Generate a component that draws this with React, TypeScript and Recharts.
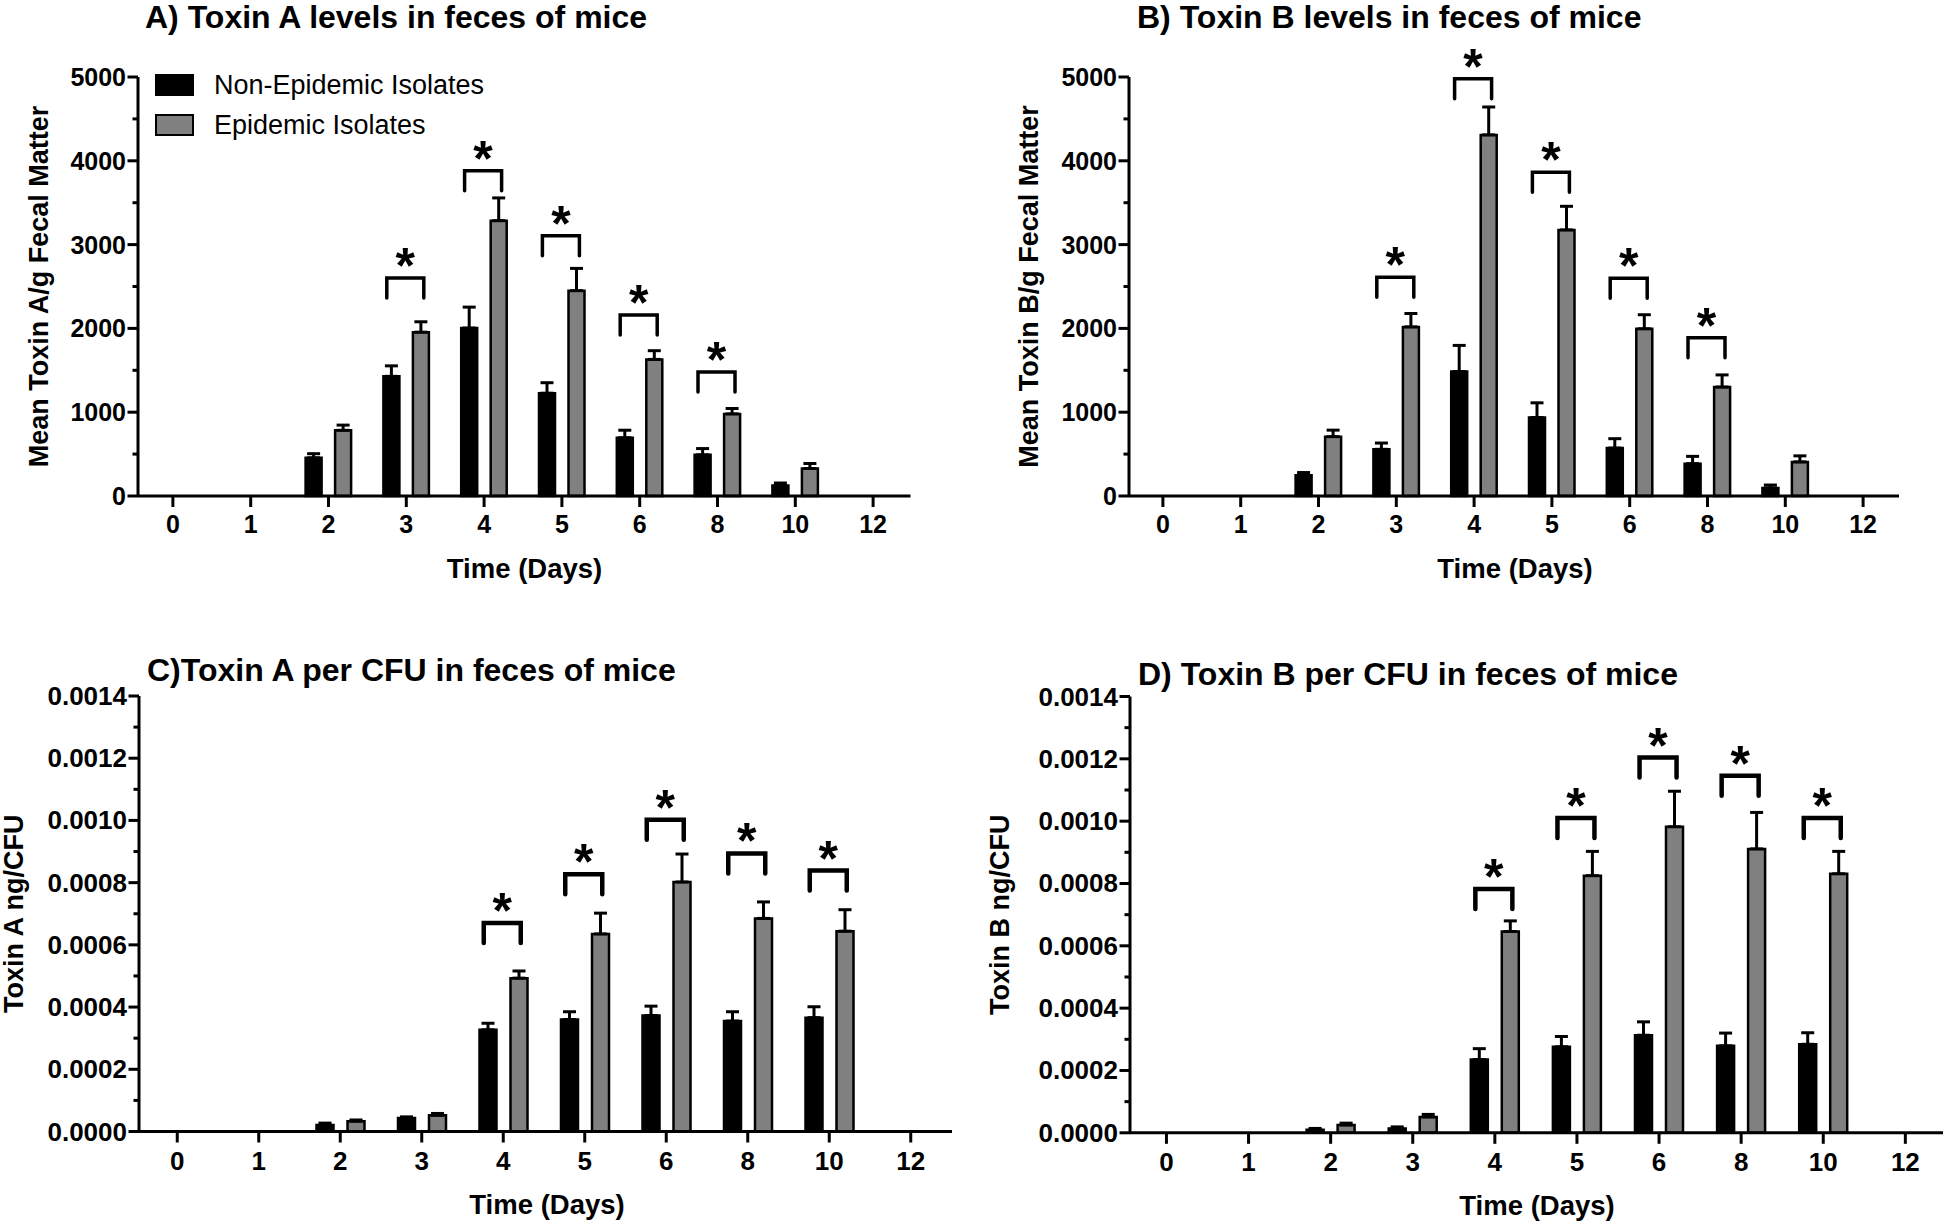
import React from 'react';
import { ComposedChart, Bar, Line, XAxis, YAxis, ErrorBar, Legend } from 'recharts';

const FONT = '"Liberation Sans", Arial, Helvetica, sans-serif';

const days = ['0', '1', '2', '3', '4', '5', '6', '8', '10', '12'];
const seriesNames = ['Non-Epidemic Isolates', 'Epidemic Isolates'];
const seriesColors = ['#000000', '#808080'];

// A) toxin A per g fecal matter
const toxinANon = [0, 0, 455, 1428, 2004, 1227, 695, 491, 125, 0];
const toxinANonErr = [null, null, 50, 125, 250, 125, 90, 75, 30, null];
const toxinAEpi = [0, 0, 784, 1955, 3285, 2450, 1630, 980, 328, 0];
const toxinAEpiErr = [null, null, 62, 124, 272, 266, 104, 64, 60, null];
const toxinASig = [null, null, null, 2600, 3880, 3105, 2160, 1480, null, null];

// B) toxin B per g fecal matter
const toxinBNon = [0, 0, 248, 557, 1485, 937, 572, 386, 96, 0];
const toxinBNonErr = [null, null, 32, 75, 312, 175, 112, 87, 35, null];
const toxinBEpi = [0, 0, 708, 2018, 4309, 3175, 1995, 1300, 407, 0];
const toxinBEpiErr = [null, null, 78, 160, 333, 282, 168, 145, 72, null];
const toxinBSig = [null, null, null, 2610, 4978, 3863, 2598, 1888, null, null];

// C) toxin A ng per CFU
const cfuANon = [0, 0, 0.000021, 0.000043, 0.000327, 0.00036, 0.000373, 0.000355, 0.000366, 0];
const cfuANonErr = [null, null, 0.000006, 0.000004, 0.000021, 0.000025, 0.00003, 0.00003, 0.000035, null];
const cfuAEpi = [0, 0, 0.000033, 0.000052, 0.000493, 0.000635, 0.000802, 0.000685, 0.000644, 0];
const cfuAEpiErr = [null, null, 0.000004, 0.000006, 0.000023, 0.000067, 0.00009, 0.000053, 0.000069, null];
const cfuASig = [null, null, null, null, 0.00067, 0.000827, 0.001002, 0.000894, 0.000839, null];

// D) toxin B ng per CFU
const cfuBNon = [0, 0, 0.00001, 0.000014, 0.000235, 0.000276, 0.000313, 0.000279, 0.000284, 0];
const cfuBNonErr = [null, null, 0.000004, 0.000005, 0.000035, 0.000033, 0.000043, 0.000041, 0.000037, null];
const cfuBEpi = [0, 0, 0.000025, 0.000051, 0.000646, 0.000825, 0.000982, 0.000911, 0.000831, 0];
const cfuBEpiErr = [null, null, 0.000006, 0.000008, 0.000034, 0.000078, 0.000114, 0.000117, 0.000072, null];
const cfuBSig = [null, null, null, null, 0.000782, 0.00101, 0.001204, 0.001146, 0.00101, null];

const levelTicks = [0, 500, 1000, 1500, 2000, 2500, 3000, 3500, 4000, 4500, 5000];
const cfuTicks = [
  0, 0.0001, 0.0002, 0.0003, 0.0004, 0.0005, 0.0006, 0.0007,
  0.0008, 0.0009, 0.001, 0.0011, 0.0012, 0.0013, 0.0014,
];

const buildRows = (non: any[], nonErr: any[], epi: any[], epiErr: any[], sig: any[]) =>
  days.map((day, i) => ({
    day,
    non: non[i],
    nonErr: nonErr[i] == null ? null : [0, nonErr[i]],
    epi: epi[i],
    epiErr: epiErr[i] == null ? null : [0, epiErr[i]],
    sig: sig[i],
  }));

const YTick = ({ x, y, payload, index, fontSize, decimals }: any) => {
  const major = index % 2 === 0;
  return (
    <g>
      <line x1={x} x2={x - (major ? 10.5 : 5.5)} y1={y} y2={y} stroke="#000" strokeWidth={3} />
      {major && (
        <text x={x - 12} y={y} textAnchor="end" dominantBaseline="central"
          fontFamily={FONT} fontWeight="bold" fontSize={fontSize} fill="#000">
          {Number(payload.value).toFixed(decimals)}
        </text>
      )}
    </g>
  );
};

const XTick = ({ x, y, payload, fontSize, labelDy }: any) => (
  <g>
    <line x1={x} x2={x} y1={y} y2={y + 11} stroke="#000" strokeWidth={3} />
    <text x={x} y={y + labelDy} textAnchor="middle" dominantBaseline="central"
      fontFamily={FONT} fontWeight="bold" fontSize={fontSize} fill="#000">
      {payload.value}
    </text>
  </g>
);

const makeBracket = (sw: number) => (p: any) => {
  const { cx, cy, payload, index } = p;
  if (payload == null || payload.sig == null || cy == null || isNaN(cy)) return <g key={`b${index}`} />;
  const l = cx - 19.5;
  const r = cx + 17.5;
  return (
    <g key={`b${index}`}>
      <path d={`M${l},${cy + 20} V${cy} H${r} V${cy + 20}`} fill="none" stroke="#000"
        strokeWidth={sw} strokeLinecap="round" />
      <text x={(l + r) / 2} y={cy + 5} textAnchor="middle" fontFamily={FONT}
        fontWeight="bold" fontSize={50} fill="#000">*</text>
    </g>
  );
};

const LegendBox = () => (
  <div style={{ fontFamily: FONT, fontSize: 27, color: '#000' }}>
    {seriesNames.map((name, i) => (
      <div key={name} style={{ display: 'flex', alignItems: 'center', height: 40 }}>
        <span style={{ width: 35, height: 18.5, background: seriesColors[i], border: '2.5px solid #000', marginRight: 20 }} />
        <span>{name}</span>
      </div>
    ))}
  </div>
);

const Panel = (props: any) => {
  const {
    left, top, width, height, rows, title, titleLeft, titleTop, yWidth, margin, pad,
    yMax, yTicks, decimals, tickFont, xLabelDy, yLabel, yLabelX, xLabelX, barSize, barGap,
    bracketWidth, legend,
  } = props;
  return (
    <div style={{ position: 'absolute', left, top, width, height }}>
      <div style={{
        position: 'absolute', left: titleLeft, top: titleTop, fontFamily: FONT, fontWeight: 'bold',
        fontSize: 32, lineHeight: '32px', whiteSpace: 'nowrap', color: '#000', zIndex: 2,
      }}>
        {title}
      </div>
      <ComposedChart width={width} height={height} data={rows} margin={margin}
        barSize={barSize} barGap={barGap} style={{ fontFamily: FONT }}>
        <XAxis dataKey="day" type="category" interval={0} height={30} padding={pad}
          axisLine={{ stroke: '#000', strokeWidth: 3 }} tickLine={false} tickSize={0} tickMargin={0}
          tick={<XTick fontSize={tickFont} labelDy={xLabelDy} />}
          label={{
            content: (p: any) => (
              <text x={xLabelX} y={p.viewBox.y + 72.5} textAnchor="middle" dominantBaseline="central"
                fontFamily={FONT} fontWeight="bold" fontSize={27.5} fill="#000">Time (Days)</text>
            ),
          }} />
        <YAxis type="number" domain={[0, yMax]} ticks={yTicks} interval={0} width={yWidth}
          axisLine={{ stroke: '#000', strokeWidth: 3 }} tickLine={false} tickSize={0} tickMargin={0}
          tick={<YTick fontSize={tickFont} decimals={decimals} />}
          label={{
            content: (p: any) => {
              const cy = p.viewBox.y + p.viewBox.height / 2;
              return (
                <text x={yLabelX} y={cy} transform={`rotate(-90 ${yLabelX} ${cy})`} textAnchor="middle"
                  dominantBaseline="central" fontFamily={FONT} fontWeight="bold" fontSize={27} fill="#000">
                  {yLabel}
                </text>
              );
            },
          }} />
        {legend && (
          <Legend content={<LegendBox />} layout="vertical" align="center" verticalAlign="middle"
            wrapperStyle={{ left: 155, top: 65, width: 'auto', height: 'auto' }} />
        )}
        <Bar dataKey="non" name={seriesNames[0]} fill={seriesColors[0]} stroke="#000" strokeWidth={2.5}
          isAnimationActive={false}>
          <ErrorBar dataKey="nonErr" width={6.5} strokeWidth={3} stroke="#000" direction="y" />
        </Bar>
        <Bar dataKey="epi" name={seriesNames[1]} fill={seriesColors[1]} stroke="#000" strokeWidth={2.5}
          isAnimationActive={false}>
          <ErrorBar dataKey="epiErr" width={6.5} strokeWidth={3} stroke="#000" direction="y" />
        </Bar>
        <Line dataKey="sig" stroke="none" dot={makeBracket(bracketWidth)} activeDot={false}
          legendType="none" isAnimationActive={false} />
      </ComposedChart>
    </div>
  );
};

export default function App() {
  return (
    <div style={{ position: 'absolute', left: 0, top: 0, width: 1946, height: 1223, background: '#fff', overflow: 'hidden' }}>
      <Panel left={0} top={0} width={960} height={610}
        rows={buildRows(toxinANon, toxinANonErr, toxinAEpi, toxinAEpiErr, toxinASig)}
        title="A) Toxin A levels in feces of mice" titleLeft={145} titleTop={1}
        yWidth={138} margin={{ top: 77, right: 49.5, bottom: 84, left: 0 }} pad={{ left: -4, right: -1.5 }}
        yMax={5000} yTicks={levelTicks} decimals={0} tickFont={25} xLabelDy={27.5}
        yLabel="Mean Toxin A/g Fecal Matter" yLabelX={39} xLabelX={524.5}
        barSize={16} barGap={13.5} bracketWidth={3.5} legend />
      <Panel left={960} top={0} width={986} height={610}
        rows={buildRows(toxinBNon, toxinBNonErr, toxinBEpi, toxinBEpiErr, toxinBSig)}
        title="B) Toxin B levels in feces of mice" titleLeft={177} titleTop={1}
        yWidth={169} margin={{ top: 77, right: 47, bottom: 84, left: 0 }} pad={{ left: -5, right: -3 }}
        yMax={5000} yTicks={levelTicks} decimals={0} tickFont={25} xLabelDy={27.5}
        yLabel="Mean Toxin B/g Fecal Matter" yLabelX={69} xLabelX={555}
        barSize={16} barGap={13.5} bracketWidth={3.5} />
      <Panel left={0} top={620} width={980} height={603}
        rows={buildRows(cfuANon, cfuANonErr, cfuAEpi, cfuAEpiErr, cfuASig)}
        title="C)Toxin A per CFU in feces of mice" titleLeft={147} titleTop={34}
        yWidth={139} margin={{ top: 76, right: 28, bottom: 61.5, left: 0 }} pad={{ left: -2.5, right: 0.5 }}
        yMax={0.0014} yTicks={cfuTicks} decimals={4} tickFont={26} xLabelDy={29}
        yLabel="Toxin A ng/CFU" yLabelX={14} xLabelX={547}
        barSize={17} barGap={14} bracketWidth={4.5} />
      <Panel left={980} top={620} width={966} height={603}
        rows={buildRows(cfuBNon, cfuBNonErr, cfuBEpi, cfuBEpiErr, cfuBSig)}
        title="D) Toxin B per CFU in feces of mice" titleLeft={158} titleTop={38}
        yWidth={150} margin={{ top: 76.5, right: 3, bottom: 60.2, left: 0 }} pad={{ left: -4.6, right: -3.4 }}
        yMax={0.0014} yTicks={cfuTicks} decimals={4} tickFont={26} xLabelDy={29}
        yLabel="Toxin B ng/CFU" yLabelX={20} xLabelX={557}
        barSize={17} barGap={14} bracketWidth={4.5} />
    </div>
  );
}
